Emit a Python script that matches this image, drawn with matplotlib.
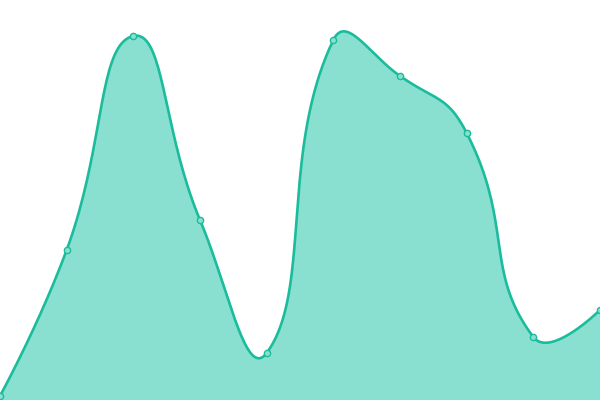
import numpy as np
import matplotlib.pyplot as plt

# data values (one per category, evenly spaced)
categories = list(range(10))
values = [4, 150, 364, 180, 47, 360, 324, 267, 63, 90]

line_color = "#1abc9c"
fill_color = "#8ae0d0"


def smooth_curve(x, y, smooth=0.5, xscale=600 / 9, n=40):
    # bezier smoothing with control points weighted by segment lengths (pixel space)
    p = np.column_stack([np.asarray(x, float) * xscale, np.asarray(y, float)])
    k = len(p)
    cin = p.copy()
    cout = p.copy()
    for i in range(1, k - 1):
        v = (p[i + 1] - p[i - 1]) * smooth
        d0 = np.linalg.norm(p[i] - p[i - 1])
        d1 = np.linalg.norm(p[i + 1] - p[i])
        r = d0 / (d0 + d1)
        cin[i] = p[i] - v * r
        cout[i] = p[i] + v * (1 - r)
    pts = []
    t = np.linspace(0, 1, n, endpoint=False)[:, None]
    for i in range(k - 1):
        a, b, c, d = p[i], cout[i], cin[i + 1], p[i + 1]
        pts.append((1 - t) ** 3 * a + 3 * (1 - t) ** 2 * t * b + 3 * (1 - t) * t**2 * c + t**3 * d)
    pts.append(p[-1:])
    pts = np.vstack(pts)
    return pts[:, 0] / xscale, pts[:, 1]


sx, sy = smooth_curve(categories, values)

fig = plt.figure(figsize=(6, 4), dpi=100)
ax = fig.add_axes([0, 0, 1, 1])
ax.fill_between(sx, sy, 0, color=fill_color, lw=0)
ax.plot(sx, sy, color=line_color, lw=1.9, solid_capstyle="round")
ax.plot(categories, values, "o", ms=4.5, mfc=fill_color, mec=line_color, mew=1.0)
ax.set_xlim(0, 9)
ax.set_ylim(0, 400)
ax.axis("off")
fig.savefig("out.png", dpi=100)
